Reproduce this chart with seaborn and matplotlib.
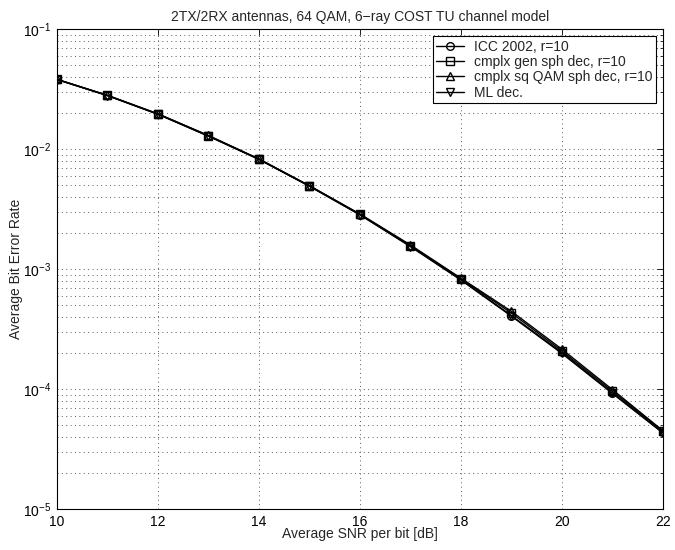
import numpy as np
import pandas as pd
import matplotlib
matplotlib.use("Agg")
import matplotlib.pyplot as plt
import seaborn as sns
from matplotlib.ticker import LogLocator, NullFormatter, FixedLocator

snr = [10, 11, 12, 13, 14, 15, 16, 17, 18, 19, 20, 21, 22]
ber_icc = [0.0381, 0.0280, 0.0196, 0.0129, 0.00824, 0.00492, 0.00285, 0.00155, 8.2e-4, 4.1e-4, 2.02e-4, 9.3e-5, 4.35e-5]
ber_gen = [0.0381, 0.0280, 0.0196, 0.0129, 0.00826, 0.00494, 0.00286, 0.00157, 8.3e-4, 4.3e-4, 2.08e-4, 9.6e-5, 4.45e-5]
ber_sq = [0.0382, 0.0281, 0.0197, 0.0130, 0.00828, 0.00496, 0.00288, 0.00159, 8.4e-4, 4.45e-4, 2.15e-4, 9.9e-5, 4.5e-5]
ber_ml = [0.0380, 0.0279, 0.0195, 0.0128, 0.00820, 0.00490, 0.00283, 0.00154, 8.1e-4, 4.05e-4, 1.98e-4, 9.2e-5, 4.3e-5]
labels = ["ICC 2002, r=10", "cmplx gen sph dec, r=10", "cmplx sq QAM sph dec, r=10", "ML dec."]
markers = ["o", "s", "^", "v"]
x_ticks = [10, 12, 14, 16, 18, 20, 22]

sns.set_style("white")
plt.rcParams['font.family'] = ['Liberation Sans', 'DejaVu Sans']
plt.rcParams['mathtext.fontset'] = 'custom'
plt.rcParams['mathtext.rm'] = 'Liberation Sans'
plt.rcParams['mathtext.it'] = 'Liberation Sans'

fig = plt.figure(figsize=(6.75, 5.5), dpi=100)
ax = fig.add_axes([0.0844, 0.0745, 0.8976, 0.8725])

series = [ber_icc, ber_gen, ber_sq, ber_ml]
for vals, lab, mk in zip(series, labels, markers):
    df = pd.DataFrame({"snr": snr, "ber": vals})
    sns.lineplot(data=df, x="snr", y="ber", ax=ax, color="k", lw=1.0,
                 marker=mk, markersize=5.5, markerfacecolor="none",
                 markeredgecolor="k", markeredgewidth=1.0, label=lab)

ax.set_yscale("log")
ax.set_xlim(10, 22)
ax.set_ylim(1e-5, 1e-1)
ax.xaxis.set_major_locator(FixedLocator(x_ticks))
ax.yaxis.set_major_locator(LogLocator(base=10, numticks=10))
ax.yaxis.set_minor_locator(LogLocator(base=10, subs=np.arange(2, 10), numticks=20))
ax.yaxis.set_minor_formatter(NullFormatter())

dot = (0, (1, 3.5))
ax.grid(True, which="major", axis="both", linestyle=dot, color="0.35", lw=0.7)
ax.grid(True, which="minor", axis="y", linestyle=dot, color="0.35", lw=0.7)

ax.tick_params(axis="both", which="both", direction="in", top=True, right=True,
               labelsize=10, colors="k")
ax.tick_params(which="major", length=4, width=0.6, pad=4)
ax.tick_params(which="minor", length=2, width=0.5)
for s in ax.spines.values():
    s.set_color("k")
    s.set_linewidth(0.8)

ax.set_xlabel("Average SNR per bit [dB]", fontsize=10, labelpad=-1)
ax.set_ylabel("Average Bit Error Rate", fontsize=10, labelpad=0)
ax.set_title("2TX/2RX antennas, 64 QAM, 6\u2212ray COST TU channel model", fontsize=10, pad=6)

leg = ax.legend(loc="upper right", fontsize=10, frameon=True, fancybox=False,
                edgecolor="k", framealpha=1, borderpad=0.25, labelspacing=0.1,
                handlelength=2.0, handletextpad=0.7, borderaxespad=0.5)
leg.get_frame().set_linewidth(0.8)

fig.savefig("out.png", dpi=100)
